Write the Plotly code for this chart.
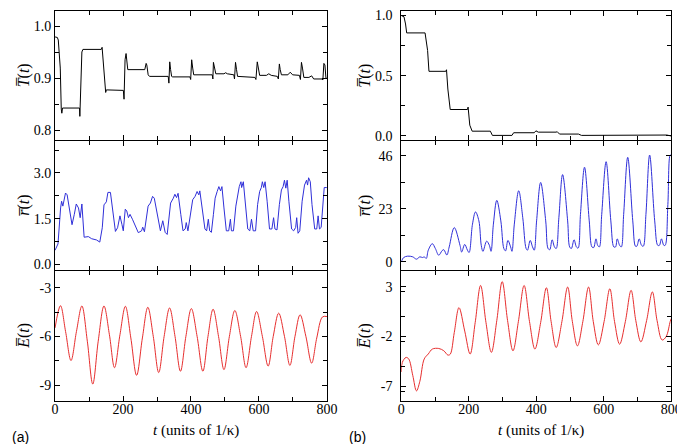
import plotly.graph_objects as go

# ---------------- data: panel (a) ----------------
t_Ta = [0, 6.7, 9.6, 13.5, 15.4, 18.3, 20, 22, 72, 73, 77, 79, 82, 136, 138.5, 141, 144, 146, 149, 151,
        201, 203, 206, 209, 211.5, 214, 264, 268, 270, 274, 278, 333, 335, 337.5, 340, 343, 346,
        397, 399, 402, 405, 408, 462.5, 464.4, 466, 469, 473, 497, 502, 507, 526, 528, 531, 534, 537,
        588, 591, 595, 598, 602, 622, 629, 636, 654, 657, 660, 662.5, 666, 685, 692, 699,
        719, 722, 725, 728, 732, 747, 755, 761, 785.5, 788, 791, 794, 797, 800]
Ta = [0.980, 0.979, 0.974, 0.923, 0.92, 0.841, 0.833, 0.843, 0.843, 0.827, 0.942, 0.951, 0.956,
      0.956, 0.96, 0.936, 0.907, 0.904, 0.873, 0.878, 0.877, 0.86, 0.936, 0.948, 0.929, 0.917,
      0.917, 0.929, 0.926, 0.907, 0.904, 0.904, 0.891, 0.932, 0.917, 0.904, 0.903,
      0.903, 0.898, 0.936, 0.92, 0.907, 0.907, 0.899, 0.931, 0.92, 0.909, 0.909, 0.911, 0.909,
      0.907, 0.899, 0.931, 0.917, 0.904, 0.902, 0.898, 0.932, 0.917, 0.906, 0.906, 0.909, 0.906,
      0.904, 0.899, 0.928, 0.917, 0.907, 0.907, 0.912, 0.907, 0.906, 0.898, 0.931, 0.92, 0.902,
      0.902, 0.905, 0.899, 0.899, 0.897, 0.929, 0.926, 0.901, 0.9]

t_ra = [0, 2, 8.7, 16.4, 19.3, 23, 30.8, 35.6, 42.3, 50, 56.7, 62.5, 69, 74, 79, 85.6, 98, 107.7, 122,
        131.7, 139, 144, 151, 155.6, 163, 170, 177.7, 184, 191, 197, 200.8, 206.6, 211, 216, 220.6,
        227.7, 234, 245, 254.6, 258, 263, 273.8, 280.5, 287, 292, 301.6, 310, 317, 324, 330, 340,
        348, 352.6, 357.4, 362, 370, 376.5, 383, 386, 391,
        399, 405, 412, 418, 423, 426, 434, 441, 446, 451, 455, 460, 466, 471, 477, 482, 487, 491,
        497, 504, 511, 516, 519, 525, 532, 538, 542, 547, 549, 554, 559, 567, 573, 578, 583, 590,
        596, 602, 607, 610, 614, 618, 624, 631, 638, 643, 647, 653, 660, 666, 671, 675, 679, 683,
        688, 696, 702, 708, 711, 715, 720, 727, 734, 740, 743, 746, 751, 756, 764, 770, 774, 778,
        783, 788, 792, 799, 800]
ra = [0.46, 0.51, 0.67, 1.85, 2.07, 1.91, 2.34, 2.28, 1.80, 1.30, 1.64, 1.98, 1.85, 1.53, 1.98, 0.89,
      0.91, 0.84, 0.80, 0.73, 1.2, 1.95, 2.05, 2.36, 2.36, 1.75, 1.08, 1.2, 1.59, 1.30, 1.1, 1.81,
      1.75, 1.53, 1.64, 1.48, 1.30, 1.04, 1.1, 1.22, 1.07, 1.91, 2.01, 2.23, 2.17, 1.64, 1.10, 1.43,
      1.05, 0.98, 2.01, 2.17, 2.3, 2.19, 2.33, 1.64, 1.10, 1.16, 1.37, 1.10,
      1.64, 2.12, 2.23, 2.39, 2.28, 2.41, 1.75, 1.16, 1.10, 1.48, 1.10, 1.05, 1.64, 2.17, 2.39, 2.55,
      2.41, 2.55, 1.85, 1.10, 1.10, 1.48, 1.10, 1.10, 1.91, 2.33, 2.55, 2.71, 2.52, 2.71, 2.17, 1.16,
      1.10, 1.48, 1.10, 1.10, 1.96, 2.39, 2.52, 2.71, 2.52, 2.71, 2.07, 1.16, 1.16, 1.53, 1.16, 1.13,
      1.96, 2.44, 2.55, 2.76, 2.50, 2.76, 2.07, 1.16, 1.10, 1.21, 1.53, 1.02, 1.10, 2.07, 2.60, 2.76,
      2.60, 2.84, 2.71, 1.96, 1.16, 1.16, 1.59, 1.16, 1.21, 2.07, 2.52, 2.52, 2.5]

t_Ea = [0, 16, 31, 47, 63, 79, 95, 111, 127, 144, 160, 175, 191, 207, 223, 240, 257, 273, 289, 305,
        321, 337, 353, 369, 385, 401, 418, 435, 450, 465, 481, 497, 513, 529, 546, 562, 578, 593,
        610, 627, 642, 658, 675, 691, 706, 721, 738, 755, 770, 787, 800]
Ea = [-5.48, -4.11, -5.7, -7.49, -5.7, -4.13, -6.3, -8.94, -6.3, -4.13, -5.9, -7.93, -5.9, -4.15,
      -6.1, -8.40, -6.1, -4.21, -6.0, -8.23, -6.0, -4.25, -6.0, -8.15, -6.0, -4.29, -6.0, -8.15,
      -6.0, -4.33, -6.0, -8.05, -6.0, -4.41, -6.0, -7.93, -6.0, -4.47, -6.0, -7.83, -6.0, -4.57,
      -6.0, -7.79, -6.0, -4.67, -6.0, -7.65, -6.1, -4.8, -4.78]

# ---------------- data: panel (b) ----------------
t_Tb = [0, 8, 12.6, 16, 70.5, 72.5, 78, 82, 132, 134, 138, 145, 196, 198, 203, 210, 264, 270, 328, 333,
        394, 399, 406, 459, 462, 469, 525, 534, 652, 655, 787, 800]
Tb = [1.0, 0.99, 0.93, 0.856, 0.856, 0.82, 0.71, 0.537, 0.537, 0.55, 0.39, 0.22, 0.22, 0.24, 0.09,
      0.04, 0.04, 0.005, 0.005, 0.027, 0.027, 0.043, 0.032, 0.032, 0.036, 0.016, 0.016, 0.005,
      0.005, 0.008, 0.008, 0.0]

t_rb = [0, 7, 19, 34, 45, 55, 63, 68, 74, 80, 92, 101, 111, 121, 126, 135, 142, 157, 174, 179, 188,
        196, 201, 211, 220, 230, 237, 242, 253, 261, 266, 273, 283, 295, 304, 309, 316, 324, 328,
        335, 348, 360, 370, 374, 382, 389, 394, 401, 413, 428, 435, 440, 447, 454, 459, 467, 478,
        493, 499, 504, 512, 519, 524, 531, 543, 557, 565, 570, 577, 582, 587, 594, 607, 621, 630,
        635, 640, 647, 652, 659, 671, 686, 694, 698, 705, 712, 717, 725, 736, 751, 760, 765, 771,
        778, 782, 790, 797, 800]
rb = [0, 1.8, 2.4, 2.1, 1.1, 2.1, 1.8, 2.1, 1.4, 5.0, 7.8, 5.7, 2.8, 4.8, 5.2, 2.9, 6.4, 14.8, 7.1,
      4.2, 7.5, 5.0, 4.0, 16.3, 21.6, 17.7, 7.1, 4.5, 8.9, 7.1, 4.5, 16.3, 26.6, 17.7, 5.7, 4.7,
      9.2, 6.4, 4.5, 16.3, 30.8, 19.1, 5.7, 5.0, 9.2, 6.4, 5.0, 17.7, 34.4, 17.7, 5.7, 5.2, 9.5,
      6.4, 5.7, 19.1, 37.8, 17.7, 6.4, 5.7, 9.5, 6.4, 5.9, 20.5, 41.0, 17.7, 6.4, 6.1, 9.9, 7.1,
      6.4, 20.5, 43.4, 17.7, 6.4, 6.4, 9.9, 7.1, 6.4, 20.5, 45.3, 17.7, 6.7, 6.7, 9.9, 7.1, 6.7,
      20.5, 46.3, 17.7, 7.1, 7.1, 9.9, 7.1, 7.1, 24.8, 46.3, 46]

t_Eb = [0, 3, 14, 22, 34, 45, 55, 68, 80, 92, 111, 126, 138, 145, 157, 171, 188, 204, 219, 235, 251,
        267, 283, 299, 315, 331, 347, 364, 380, 396, 413, 430, 444, 459, 476, 493, 507, 522, 538,
        555, 569, 584, 601, 618, 632, 647, 664, 681, 695, 710, 727, 744, 758, 773, 785, 797, 800]
Eb = [-5.56, -4.6, -4.1, -4.25, -5.9, -7.46, -6.5, -4.25, -3.75, -3.26, -3.2, -3.43, -3.86, -3.78,
      -1.6, 0.9, -1.45, -3.76, -0.6, 3.13, -0.6, -3.59, -0.4, 3.52, -0.4, -3.43, -0.5, 3.13, -0.5,
      -3.26, -0.6, 2.9, -0.5, -3.1, -0.5, 2.97, -0.5, -2.94, -0.5, 2.97, -0.5, -2.84, -0.5, 2.8,
      -0.5, -2.77, -0.5, 2.64, -0.4, -2.54, -0.4, 2.48, -0.4, -2.35, -2.0, -0.48, -0.2]

# ---------------- tick labels ----------------
x_ticks = [0, 200, 400, 600, 800]
x_ticktext = ["0", "200", "400", "600", "800"]
Ta_ticks, Ta_text = [0.8, 0.9, 1.0], ["0.8", "0.9", "1.0"]
ra_ticks, ra_text = [0.0, 1.5, 3.0], ["0.0", "1.5", "3.0"]
Ea_ticks, Ea_text = [-9, -6, -3], ["-9", "-6", "-3"]
Tb_ticks, Tb_text = [0.0, 0.5, 1.0], ["0.0", "0.5", "1.0"]
rb_ticks, rb_text = [0, 23, 46], ["0", "23", "46"]
Eb_ticks, Eb_text = [-7, -2, 3], ["-7", "-2", "3"]

W, H = 685, 444
def fx(p): return p / W
def fy(p): return (H - p) / H

xdom = {"a": [fx(44), fx(322)], "b": [fx(398), fx(674)]}
ydom = [[fy(132), fy(1)], [fy(264), fy(133)], [fy(396), fy(265)]]

BLUE = "#2f2fd8"
RED = "#e62e2e"
SERIF = "Liberation Serif"

panels = [
    ("a", 0, t_Ta, Ta, "black", "linear", [0.781, 1.03], Ta_ticks, Ta_text, 0.05),
    ("b", 0, t_Tb, Tb, "black", "linear", [-0.035, 1.038], Tb_ticks, Tb_text, 0.25),
    ("a", 1, t_ra, ra, BLUE, "linear", [-0.2, 4.04], ra_ticks, ra_text, 0.75),
    ("b", 1, t_rb, rb, BLUE, "spline", [-3.8, 52.3], rb_ticks, rb_text, 11.5),
    ("a", 2, t_Ea, Ea, RED, "spline", [-9.96, -2.0], Ea_ticks, Ea_text, 1.5),
    ("b", 2, t_Eb, Eb, RED, "spline", [-8.44, 4.54], Eb_ticks, Eb_text, 2.5),
]

fig = go.Figure()
common = dict(showline=True, linecolor="black", linewidth=1, mirror="ticks", ticks="inside",
              ticklen=5, tickwidth=1, tickcolor="black", showgrid=False, zeroline=False,
              ticklabeloverflow="allow",
              tickfont=dict(family=SERIF, size=14, color="black"))

for k, (col, row, t, v, color, shape, yr, yt, ytt, ymin) in enumerate(panels, start=1):
    xa = "x" if k == 1 else f"x{k}"
    ya = "y" if k == 1 else f"y{k}"
    line = dict(color=color, width=1, shape=shape)
    if shape == "spline":
        line["smoothing"] = 1.0
    fig.add_trace(go.Scatter(x=t, y=v, mode="lines", line=line, xaxis=xa, yaxis=ya,
                             showlegend=False, hoverinfo="skip"))
    xkey = "xaxis" if k == 1 else f"xaxis{k}"
    ykey = "yaxis" if k == 1 else f"yaxis{k}"
    fig.update_layout(**{
        xkey: dict(common, domain=xdom[col], anchor=ya, range=[0, 800], tickmode="array",
                   tickvals=x_ticks, ticktext=x_ticktext, showticklabels=(row == 2),
                   ticklabelstandoff=-4,
                   minor=dict(dtick=100, tick0=0, ticks="inside", ticklen=4, tickcolor="black")),
        ykey: dict(common, domain=ydom[row], anchor=xa, range=yr, tickmode="array",
                   tickvals=yt, ticktext=ytt,
                   ticklabelstandoff=(5 if col == "b" else 0),
                   minor=dict(dtick=ymin, tick0=0, ticks="inside", ticklen=4, tickcolor="black")),
    })

ann = []
ylabels = ["<i>T\u0305</i>(<i>t</i>)", "<i>r\u0305</i>(<i>t</i>)", "<i>E\u0305</i>(<i>t</i>)"]
for row, lab in enumerate(ylabels):
    yc = (ydom[row][0] + ydom[row][1]) / 2
    for xc in (fx(12), fx(361)):
        ann.append(dict(x=xc, y=yc, xref="paper", yref="paper", text=lab, showarrow=False,
                        textangle=-90, xanchor="center", yanchor="middle",
                        font=dict(family=SERIF, size=16, color="black")))
for xc in (fx(188), fx(541)):
    ann.append(dict(x=xc, y=fy(426), xref="paper", yref="paper",
                    text="<i>t</i> (units of 1/κ)", showarrow=False, xanchor="center",
                    yanchor="middle", font=dict(family=SERIF, size=15, color="black")))
for xc, lab in ((fx(9), "(a)"), (fx(353), "(b)")):
    ann.append(dict(x=xc, y=fy(433), xref="paper", yref="paper", text=lab, showarrow=False,
                    xanchor="center", yanchor="middle",
                    font=dict(family="Liberation Sans", size=14, color="black")))

fig.update_layout(width=W, height=H, margin=dict(l=0, r=0, t=0, b=0),
                  plot_bgcolor="white", paper_bgcolor="white", annotations=ann)

fig.write_html("out.html")
